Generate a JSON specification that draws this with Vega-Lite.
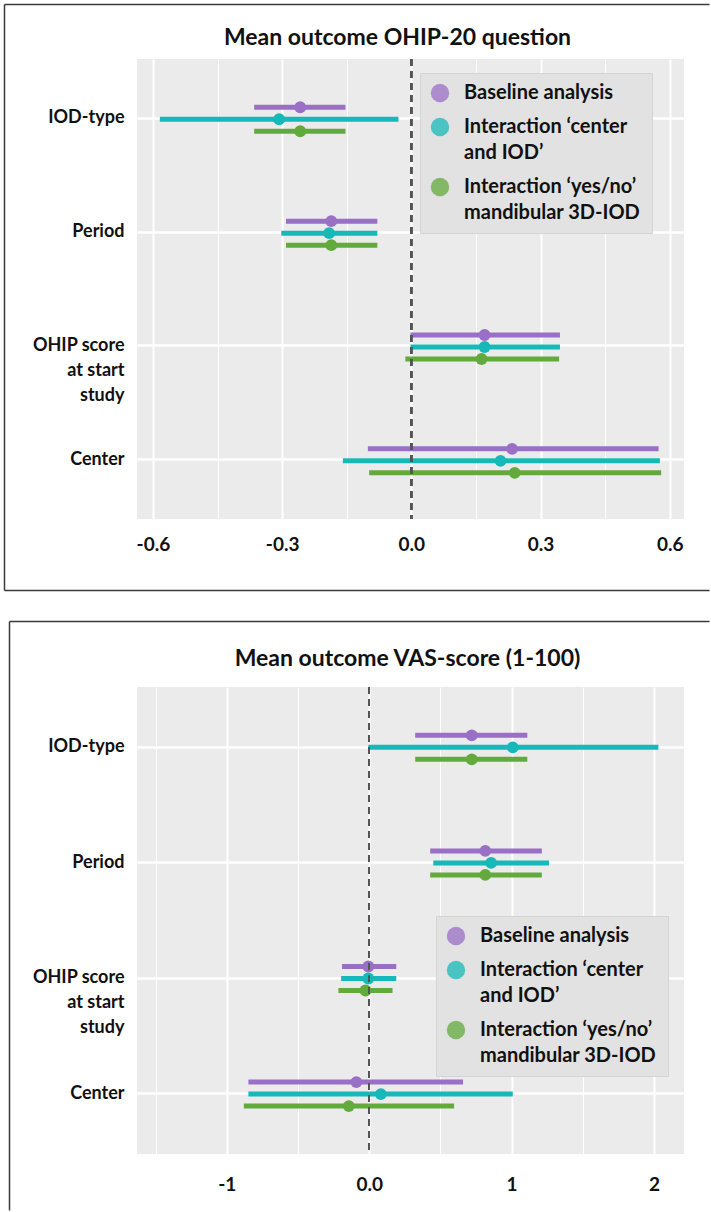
{
  "$schema": "https://vega.github.io/schema/vega-lite/v6.json",
  "padding": {"left": 4, "top": 4, "right": 0, "bottom": 0},
  "spacing": 168,
  "bounds": "flush",
  "config": {
    "font": "Lato",
    "view": {"fill": "#ebebeb", "stroke": null},
    "axis": {"domain": false, "ticks": false, "labelFont": "Lato", "labelFontWeight": "bold", "labelColor": "#111111", "gridColor": "#ffffff", "title": null},
    "title": {"font": "Lato", "fontWeight": "bold", "fontSize": 23, "color": "#111111", "anchor": "middle"},
    "legend": {"labelFont": "Lato", "labelFontWeight": "bold", "labelFontSize": 20, "labelColor": "#111111", "symbolType": "circle", "symbolSize": 340, "symbolOpacity": 0.75, "symbolStrokeWidth": 0, "fillColor": "#e2e2e2", "strokeColor": "#d4d4d4", "padding": 10, "labelOffset": 14, "rowPadding": 14, "labelLimit": 400, "title": null}
  },
  "datasets": {
    "ohip": [
      {"term": "IOD-type", "model": "Baseline analysis", "est": -0.258, "lo": -0.365, "hi": -0.153},
      {"term": "IOD-type", "model": "Interaction ‘center and IOD’", "est": -0.307, "lo": -0.584, "hi": -0.030},
      {"term": "IOD-type", "model": "Interaction  ‘yes/no’ mandibular 3D-IOD", "est": -0.258, "lo": -0.365, "hi": -0.153},
      {"term": "Period", "model": "Baseline analysis", "est": -0.186, "lo": -0.291, "hi": -0.079},
      {"term": "Period", "model": "Interaction ‘center and IOD’", "est": -0.191, "lo": -0.302, "hi": -0.079},
      {"term": "Period", "model": "Interaction  ‘yes/no’ mandibular 3D-IOD", "est": -0.186, "lo": -0.291, "hi": -0.079},
      {"term": "OHIP score at start study", "model": "Baseline analysis", "est": 0.170, "lo": -0.002, "hi": 0.345},
      {"term": "OHIP score at start study", "model": "Interaction ‘center and IOD’", "est": 0.170, "lo": -0.002, "hi": 0.345},
      {"term": "OHIP score at start study", "model": "Interaction  ‘yes/no’ mandibular 3D-IOD", "est": 0.163, "lo": -0.014, "hi": 0.343},
      {"term": "Center", "model": "Baseline analysis", "est": 0.234, "lo": -0.101, "hi": 0.574},
      {"term": "Center", "model": "Interaction ‘center and IOD’", "est": 0.207, "lo": -0.159, "hi": 0.577},
      {"term": "Center", "model": "Interaction  ‘yes/no’ mandibular 3D-IOD", "est": 0.240, "lo": -0.098, "hi": 0.580}
    ],
    "vas": [
      {"term": "IOD-type", "model": "Baseline analysis", "est": 0.720, "lo": 0.323, "hi": 1.110},
      {"term": "IOD-type", "model": "Interaction ‘center and IOD’", "est": 1.008, "lo": -0.006, "hi": 2.030},
      {"term": "IOD-type", "model": "Interaction  ‘yes/no’ mandibular 3D-IOD", "est": 0.720, "lo": 0.323, "hi": 1.110},
      {"term": "Period", "model": "Baseline analysis", "est": 0.815, "lo": 0.428, "hi": 1.212},
      {"term": "Period", "model": "Interaction ‘center and IOD’", "est": 0.856, "lo": 0.450, "hi": 1.262},
      {"term": "Period", "model": "Interaction  ‘yes/no’ mandibular 3D-IOD", "est": 0.815, "lo": 0.428, "hi": 1.212},
      {"term": "OHIP score at start study", "model": "Baseline analysis", "est": -0.006, "lo": -0.191, "hi": 0.190},
      {"term": "OHIP score at start study", "model": "Interaction ‘center and IOD’", "est": -0.006, "lo": -0.197, "hi": 0.190},
      {"term": "OHIP score at start study", "model": "Interaction  ‘yes/no’ mandibular 3D-IOD", "est": -0.026, "lo": -0.216, "hi": 0.164},
      {"term": "Center", "model": "Baseline analysis", "est": -0.090, "lo": -0.848, "hi": 0.659},
      {"term": "Center", "model": "Interaction ‘center and IOD’", "est": 0.082, "lo": -0.848, "hi": 1.008},
      {"term": "Center", "model": "Interaction  ‘yes/no’ mandibular 3D-IOD", "est": -0.143, "lo": -0.880, "hi": 0.596}
    ]
  },
  "vconcat": [
    {
      "width": 547,
      "height": 460,
      "title": {"text": "Mean outcome OHIP-20 question", "offset": -46, "dx": -13},
      "data": {"name": "ohip"},
      "layer": [
        {
          "layer": [
            {
              "mark": {"type": "rule", "strokeWidth": 5, "strokeCap": "butt"},
              "encoding": {
                "y": {"field": "term", "type": "nominal", "sort": ["IOD-type", "Period", "OHIP score at start study", "Center"], "scale": {"paddingInner": 0, "paddingOuter": 0.02},
                  "axis": {"orient": "left", "grid": true, "gridWidth": 2.5, "labelFontSize": 18, "labelPadding": 13, "labelLineHeight": 25, "labelAlign": "right",
                    "labelExpr": "datum.label == 'OHIP score at start study' ? ['OHIP score', 'at start', 'study'] : datum.label"}},
                "yOffset": {"field": "model", "type": "nominal", "sort": ["Baseline analysis", "Interaction ‘center and IOD’", "Interaction  ‘yes/no’ mandibular 3D-IOD"], "scale": {"type": "point", "padding": 0, "range": [46, 70]}},
                "x": {"field": "lo", "type": "quantitative", "scale": {"domain": [-0.637, 0.633], "nice": false, "zero": false},
                  "axis": {"orient": "bottom", "values": [-0.6, -0.45, -0.3, -0.15, 0, 0.15, 0.3, 0.45, 0.6], "grid": true, "labelFontSize": 19, "labelPadding": 16,
                    "labelExpr": "round(datum.value * 100) % 30 == 0 ? replace(format(datum.value, '.1f'), '−', '-') : ''",
                    "gridWidth": {"condition": {"test": "round(datum.value * 100) % 30 == 0", "value": 2}, "value": 1}}},
                "x2": {"field": "hi"},
                "color": {"field": "model", "type": "nominal", "scale": {"domain": ["Baseline analysis", "Interaction ‘center and IOD’", "Interaction  ‘yes/no’ mandibular 3D-IOD"], "range": ["#9a6fc6", "#17b8b8", "#63aa3c"]},
                  "legend": {"orient": "none", "legendX": 283, "legendY": 14, "labelBaseline": "top",
                    "labelExpr": "datum.label == 'Baseline analysis' ? 'Baseline analysis' : (indexof(datum.label, 'center') >= 0 ? ['Interaction ‘center', 'and IOD’'] : ['Interaction  ‘yes/no’', 'mandibular 3D-IOD'])",
                    "encode": {"labels": {"update": {"lineHeight": {"value": 26}, "dy": {"value": -10}}}}}}
              }
            },
            {
              "mark": {"type": "circle", "size": 140, "opacity": 1},
              "encoding": {
                "y": {"field": "term", "type": "nominal", "sort": ["IOD-type", "Period", "OHIP score at start study", "Center"]},
                "yOffset": {"field": "model", "type": "nominal", "sort": ["Baseline analysis", "Interaction ‘center and IOD’", "Interaction  ‘yes/no’ mandibular 3D-IOD"]},
                "x": {"field": "est", "type": "quantitative"},
                "color": {"field": "model", "type": "nominal"}
              }
            },
            {
              "mark": {"type": "rule", "color": "#555555", "strokeWidth": 1.6, "strokeDash": [7, 5]},
              "encoding": {"x": {"datum": 0, "type": "quantitative"}}
            }
          ]
        },
        {
          "mark": {"type": "point", "opacity": 0, "size": 1},
          "encoding": {
            "x": {"field": "est", "type": "quantitative", "scale": {"domain": [-1, 1], "nice": false, "zero": false, "range": [-133, 572]},
              "axis": {"orient": "top", "offset": 55, "domain": true, "domainColor": "#3a3a3a", "domainWidth": 1.5, "labels": false, "grid": false, "ticks": false}},
            "y": {"field": "est", "type": "quantitative", "scale": {"domain": [-1, 1], "nice": false, "zero": false, "range": [531, -55]},
              "axis": {"orient": "left", "offset": 133, "domain": true, "domainColor": "#3a3a3a", "domainWidth": 1.5, "labels": false, "grid": false, "ticks": false}}
          }
        },
        {
          "mark": {"type": "point", "opacity": 0, "size": 1},
          "encoding": {
            "x": {"field": "est", "type": "quantitative", "scale": {"domain": [-1, 1], "nice": false, "zero": false, "range": [-133, 572]},
              "axis": {"orient": "bottom", "offset": 71, "domain": true, "domainColor": "#3a3a3a", "domainWidth": 1.5, "labels": false, "grid": false, "ticks": false}}
          }
        }
      ],
      "resolve": {"scale": {"x": "independent", "y": "independent"}, "axis": {"x": "independent", "y": "independent"}}
    },
    {
      "width": 547,
      "height": 467,
      "title": {"text": "Mean outcome VAS-score (1-100)", "offset": -50, "dx": -3},
      "data": {"name": "vas"},
      "layer": [
        {
          "layer": [
            {
              "mark": {"type": "rule", "strokeWidth": 5, "strokeCap": "butt"},
              "encoding": {
                "y": {"field": "term", "type": "nominal", "sort": ["IOD-type", "Period", "OHIP score at start study", "Center"], "scale": {"paddingInner": 0, "paddingOuter": 0.02},
                  "axis": {"orient": "left", "grid": true, "gridWidth": 2.5, "labelFontSize": 18, "labelPadding": 13, "labelLineHeight": 25, "labelAlign": "right",
                    "labelExpr": "datum.label == 'OHIP score at start study' ? ['OHIP score', 'at start', 'study'] : datum.label"}},
                "yOffset": {"field": "model", "type": "nominal", "sort": ["Baseline analysis", "Interaction ‘center and IOD’", "Interaction  ‘yes/no’ mandibular 3D-IOD"], "scale": {"type": "point", "padding": 0, "range": [46, 70]}},
                "x": {"field": "lo", "type": "quantitative", "scale": {"domain": [-1.63, 2.21], "nice": false, "zero": false},
                  "axis": {"orient": "bottom", "values": [-1.5, -1, -0.5, 0, 0.5, 1, 1.5, 2], "grid": true, "labelFontSize": 19, "labelPadding": 21,
                    "labelExpr": "datum.value == 0 ? '0.0' : (round(datum.value * 10) % 10 == 0 ? replace(format(datum.value, 'd'), '−', '-') : '')",
                    "gridWidth": {"condition": {"test": "round(datum.value * 10) % 10 == 0", "value": 2}, "value": 1}}},
                "x2": {"field": "hi"},
                "color": {"field": "model", "type": "nominal", "scale": {"domain": ["Baseline analysis", "Interaction ‘center and IOD’", "Interaction  ‘yes/no’ mandibular 3D-IOD"], "range": ["#9a6fc6", "#17b8b8", "#63aa3c"]},
                  "legend": {"orient": "none", "legendX": 299, "legendY": 229, "labelBaseline": "top",
                    "labelExpr": "datum.label == 'Baseline analysis' ? 'Baseline analysis' : (indexof(datum.label, 'center') >= 0 ? ['Interaction ‘center', 'and IOD’'] : ['Interaction  ‘yes/no’', 'mandibular 3D-IOD'])",
                    "encode": {"labels": {"update": {"lineHeight": {"value": 26}, "dy": {"value": -10}}}}}}
              }
            },
            {
              "mark": {"type": "circle", "size": 140, "opacity": 1},
              "encoding": {
                "y": {"field": "term", "type": "nominal", "sort": ["IOD-type", "Period", "OHIP score at start study", "Center"]},
                "yOffset": {"field": "model", "type": "nominal", "sort": ["Baseline analysis", "Interaction ‘center and IOD’", "Interaction  ‘yes/no’ mandibular 3D-IOD"]},
                "x": {"field": "est", "type": "quantitative"},
                "color": {"field": "model", "type": "nominal"}
              }
            },
            {
              "mark": {"type": "rule", "color": "#555555", "strokeWidth": 1.6, "strokeDash": [7, 5]},
              "encoding": {"x": {"datum": 0, "type": "quantitative"}}
            }
          ]
        },
        {
          "mark": {"type": "point", "opacity": 0, "size": 1},
          "encoding": {
            "x": {"field": "est", "type": "quantitative", "scale": {"domain": [-3, 3], "nice": false, "zero": false, "range": [-128, 572]},
              "axis": {"orient": "top", "offset": 66, "domain": true, "domainColor": "#3a3a3a", "domainWidth": 1.5, "labels": false, "grid": false, "ticks": false}},
            "y": {"field": "est", "type": "quantitative", "scale": {"domain": [-3, 3], "nice": false, "zero": false, "range": [523, -66]},
              "axis": {"orient": "left", "offset": 128, "domain": true, "domainColor": "#3a3a3a", "domainWidth": 1.5, "labels": false, "grid": false, "ticks": false}}
          }
        }
      ],
      "resolve": {"scale": {"x": "independent", "y": "independent"}, "axis": {"x": "independent", "y": "independent"}}
    }
  ],
  "resolve": {"legend": {"color": "independent"}, "scale": {"color": "independent"}}
}
